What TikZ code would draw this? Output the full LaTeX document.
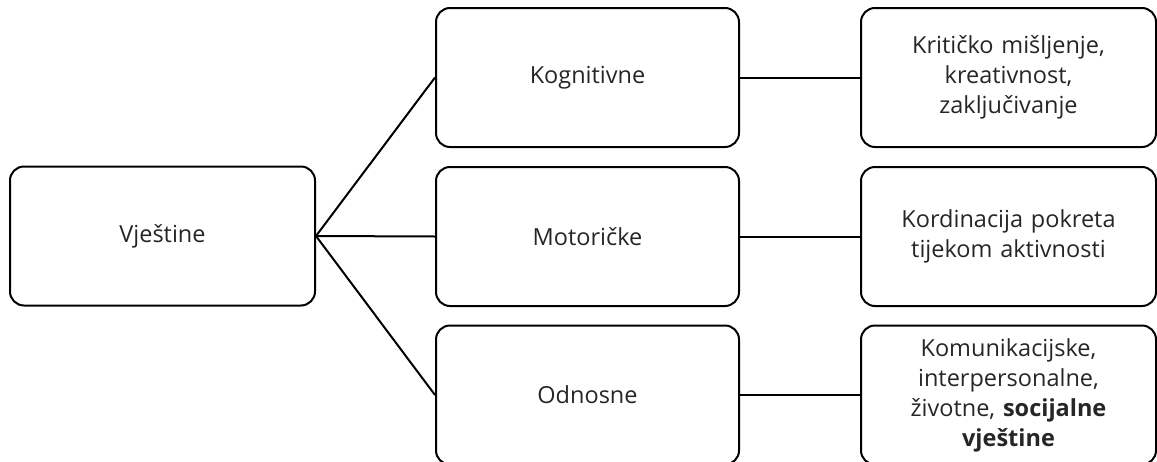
\documentclass[tikz,border=0pt]{standalone}
\usepackage{fontspec}
\setmainfont{Open Sans}
\begin{document}
\begin{tikzpicture}[x=1pt,y=-1pt,
  box/.style={draw=black,line width=2pt,rounded corners=14pt,inner sep=0pt,
    minimum height=139pt,align=center,text=black!85,
    font=\fontsize{23.5}{30}\selectfont},
  link/.style={draw=black,line width=2pt}]
\useasboundingbox (0,0) rectangle (1157,461);
\node[box,minimum width=305pt] (v) at (162.5,236) {Vještine};
\node[box,minimum width=303pt] (k) at (587.5,77.5) {Kognitivne};
\node[box,minimum width=303pt] (m) at (587.5,236.5) {Motoričke};
\node[box,minimum width=303pt] (o) at (587.5,395) {Odnosne};
\node[box,minimum width=295pt,text width=285pt] (k2) at (1008.5,77.5) {Kritičko mišljenje,\\kreativnost,\\zaključivanje};
\node[box,minimum width=295pt,text width=285pt] (m2) at (1008.5,236.5) {Kordinacija pokreta\\tijekom aktivnosti};
\node[box,minimum width=295pt,text width=285pt] (o2) at (1008.5,395) {Komunikacijske,\\interpersonalne,\\životne, \textbf{socijalne}\\\textbf{vještine}};
\draw[link] (v.east) -- (k.west);
\draw[link] (v.east) -- (m.west);
\draw[link] (v.east) -- (o.west);
\draw[link] (k.east) -- (k2.west);
\draw[link] (m.east) -- (m2.west);
\draw[link] (o.east) -- (o2.west);
\end{tikzpicture}
\end{document}
